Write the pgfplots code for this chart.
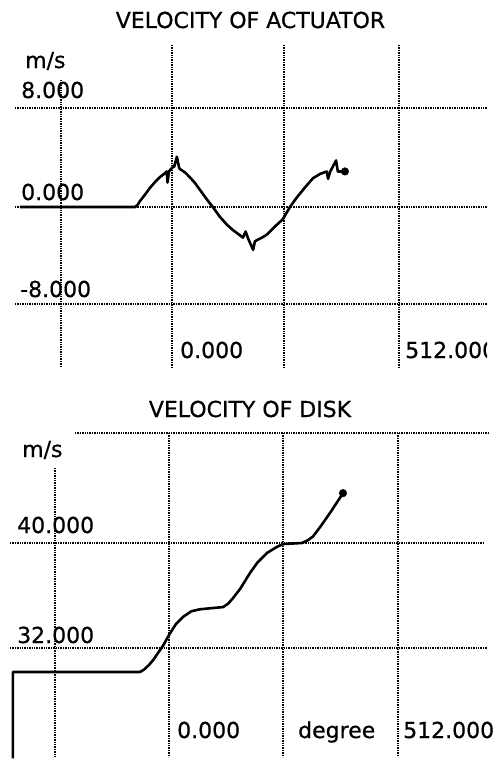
\documentclass[border=0pt]{standalone}
\usepackage{pgfplots}
\pgfplotsset{compat=1.18}
\usepackage{fontspec}
\setmainfont{DejaVu Sans}[FakeBold=0.6]
\begin{document}
\begin{tikzpicture}
\useasboundingbox (0pt,0pt) rectangle (502pt,-760pt);
% grid lines (dotted, as on the original plotter screen)
\begin{scope}[black, line width=1.5pt, dash pattern=on 1.4pt off 1.0pt]
% top panel
\draw (15pt,-108pt) -- (487pt,-108pt);
\draw (15pt,-207pt) -- (487pt,-207pt);
\draw (15pt,-304pt) -- (487pt,-304pt);
\draw (61pt,-80pt) -- (61pt,-367pt);
\draw (172pt,-45pt) -- (172pt,-367pt);
\draw (284pt,-45pt) -- (284pt,-367pt);
\draw (399pt,-45pt) -- (399pt,-367pt);
% bottom panel
\draw (75pt,-433pt) -- (488pt,-433pt);
\draw (10pt,-543pt) -- (485pt,-543pt);
\draw (10pt,-648pt) -- (487pt,-648pt);
\draw (55pt,-468pt) -- (55pt,-757pt);
\draw (169pt,-433pt) -- (169pt,-757pt);
\draw (283pt,-433pt) -- (283pt,-757pt);
\draw (398pt,-433pt) -- (398pt,-757pt);
\end{scope}

% ---- top: velocity of actuator
\begin{axis}[at={(3.52pt,-378.5pt)}, anchor=south west,
  x=0.443359pt, y=12.25pt, xmin=-380, xmax=720, ymin=-14, ymax=14,
  hide axis, clip=false, enlargelimits=false]
\addplot[black, line width=2.6pt, line join=round] coordinates {
(-343,0) (-83,0) (-77,0.2) (-72,0.5) (-61,1.0) (-50,1.55) (-38,2.05) (-27,2.45) (-16,2.75)
(-12,2.9) (-10,2.0) (-7,2.9) (0,3.2) (5,3.3) (11,4.1) (16,3.2) (18,3.1)
(30,2.8) (41,2.4) (52,1.95) (63,1.4) (79,0.6) (92,0) (108,-0.8) (124,-1.45) (138,-1.9) (153,-2.3)
(160,-2.5) (166,-2.0) (172,-2.6) (183,-3.5) (187,-2.8) (192,-2.7) (203,-2.5)
(214,-2.25) (232,-1.6) (250,-1.0) (266,0) (282,0.8) (300,1.6) (318,2.35)
(334,2.7) (349,2.9) (352,2.3) (357,2.9) (370,3.8) (374,2.9) (390,2.9)
};
\addplot[black, only marks, mark=*, mark size=3.8pt] coordinates {(390,2.9)};
\end{axis}

% ---- bottom: velocity of disk
\begin{axis}[at={(-0.96pt,-759.56pt)}, anchor=south west,
  x=0.447266pt, y=13.125pt, xmin=-380, xmax=720, ymin=23.5, ymax=49,
  hide axis, clip=false, enlargelimits=false]
\addplot[black, line width=2.6pt, line join=round] coordinates {
(-349,23.6) (-349,30.17) (-65,30.17) (-56,30.35) (-45,30.7) (-35,31.1) (-27,31.5) (-13,32.2) (2,33.1)
(15,33.8) (31,34.36) (50,34.8) (69,34.95) (121,35.12) (133,35.4) (143,35.8) (159,36.5) (181,37.71)
(197,38.48) (219,39.24) (241,39.70) (255,39.92) (297,40.0) (310,40.2) (322,40.5)
(338,41.22) (360,42.29) (389,43.8)
};
\addplot[black, only marks, mark=*, mark size=3.8pt] coordinates {(389,43.8)};
\end{axis}

% ---- texts
\begin{scope}[every node/.style={inner sep=0pt, font=\fontsize{22}{26}\selectfont}]
\node[anchor=base] at (250.5pt,-28pt) {VELOCITY OF ACTUATOR};
\node[anchor=base west] at (25pt,-68pt) {m/s};
\node[anchor=base west] at (21pt,-98pt) {8.000};
\node[anchor=base west] at (21pt,-200pt) {0.000};
\node[anchor=base west] at (20pt,-297pt) {-8.000};
\node[anchor=base west] at (180pt,-358pt) {0.000};
\begin{scope}
\clip (400pt,-330pt) rectangle (487pt,-372pt);
\node[anchor=base west] at (405pt,-358pt) {512.000};
\end{scope}
\node[anchor=base] at (250pt,-417pt) {VELOCITY OF DISK};
\node[anchor=base west] at (22pt,-457pt) {m/s};
\node[anchor=base west] at (17pt,-533pt) {40.000};
\node[anchor=base west] at (17pt,-643pt) {32.000};
\node[anchor=base west] at (177pt,-738pt) {0.000};
\node[anchor=base west] at (298pt,-738pt) {degree};
\node[anchor=base west] at (403pt,-738pt) {512.000};
\end{scope}
\end{tikzpicture}
\end{document}
